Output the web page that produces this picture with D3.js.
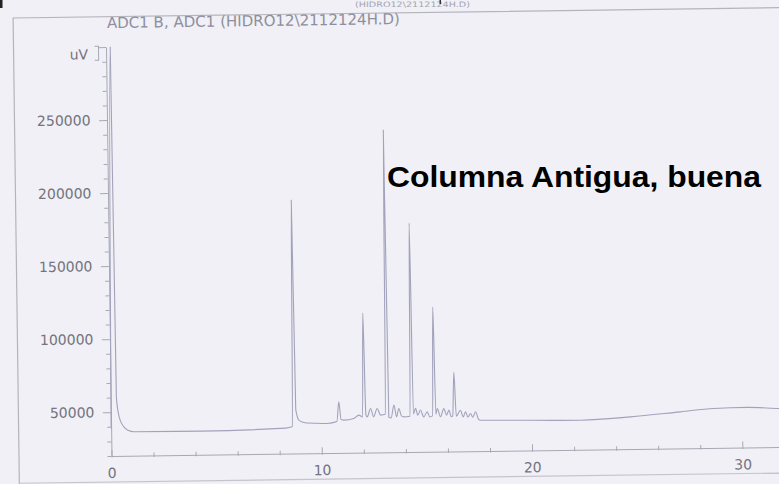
<!DOCTYPE html>
<html><head><meta charset="utf-8">
<script src="https://cdn.jsdelivr.net/npm/d3@7"></script>
<style>html,body{margin:0;padding:0;background:#f0f0f6;overflow:hidden}</style>
</head><body>
<script>
// ---- data (time in min, signal in uV) ----
const retentionTime = [0.00,0.20,0.27,0.40,0.60,0.80,1.10,4.25,8.30,8.62,8.71,8.79,8.95,9.30,10.28,10.74,10.84,10.94,11.07,11.54,11.79,11.96,12.04,12.12,12.18,12.35,12.49,12.66,12.82,13.05,13.13,13.21,13.32,13.46,13.58,13.69,13.82,13.92,14.22,14.30,14.38,14.49,14.59,14.72,14.87,15.04,15.16,15.29,15.37,15.45,15.52,15.67,15.83,15.96,16.07,16.18,16.25,16.33,16.42,16.62,16.75,16.86,16.97,17.10,17.20,17.34,17.48,17.57,18.20,22.33,24.70,27.08,28.66,30.27,31.79,33.00];
const signal        = [39000,300000,60000,46000,40000,37500,36400,36200,37500,38500,193600,50000,42500,40800,40300,41500,55000,42800,42400,43400,45700,44500,115500,46000,44400,50100,44400,50100,45500,46000,240700,44000,43500,52200,44200,49900,44600,44100,44500,176700,46000,49800,45100,48600,43900,47300,43800,44500,119000,45500,49500,43800,49400,44900,48300,43700,44300,74200,44000,48100,43500,47000,43500,45800,43200,46900,41600,41100,41000,40200,42000,45000,47000,47400,46400,46000];
const xTickValues = [0,2,4,6,8,10,12,14,16,18,20,22,24,26,28,30,32];
const xTickLabels = [0,10,20,30];
const yTickValues = [20000,30000,40000,50000,60000,70000,80000,90000,100000,110000,120000,130000,140000,150000,160000,170000,180000,190000,200000,210000,220000,230000,240000,250000,260000,270000,280000,290000,300000];
const yTickLabels = [50000,100000,150000,200000,250000];
const titleText = "ADC1 B, ADC1 (HIDRO12\\2112124H.D)";
const topCutText = "(HIDRO12\\2112124H.D)";
const unitText = "uV";
const annotationText = "Columna Antigua, buena";

// ---- drawing ----
const W = 779, H = 484;
const svg = d3.select("body").append("svg").attr("width", W).attr("height", H);
svg.append("rect").attr("width", W).attr("height", H).attr("fill", "#f0f0f6");

const x = d3.scaleLinear().domain([0, 33]).range([111.5, 111.5 + 21.03 * 33]);
const y = d3.scaleLinear().domain([20000, 300000]).range([456, 47]);

// scanned page is slightly rotated
const g = svg.append("g").attr("transform", "rotate(-0.77,111.5,456)");

// frame of the scanned report
g.append("path").attr("d", "M19,490 V16.7 H830")
  .attr("fill", "none").attr("stroke", "#b4b4bc").attr("stroke-width", 1.2);
g.append("line").attr("x1", 19).attr("x2", 830).attr("y1", 482).attr("y2", 482)
  .attr("stroke", "#c4c4cc").attr("stroke-width", 1.2);

// title
g.append("text").attr("x", 112.7).attr("y", 28).text(titleText)
  .attr("font-family", "DejaVu Sans").attr("font-size", 15).attr("fill", "#8e8e9c")
  .attr("textLength", 293).attr("lengthAdjust", "spacingAndGlyphs");

const labelColor = "#74747e", axisColor = "#a8a8b4";

// x axis
const xAxis = d3.axisBottom(x).tickValues(xTickValues).tickSizeOuter(0).tickSizeInner(-3).tickPadding(12)
  .tickFormat(d => xTickLabels.includes(d) ? d : "");
const gx = g.append("g").attr("transform", "translate(0,456)").call(xAxis);
gx.select(".domain").attr("stroke", axisColor);
gx.selectAll(".tick line").attr("stroke", axisColor)
  .attr("y2", d => xTickLabels.includes(d) ? -6 : -3).attr("y1", 1.5);
gx.selectAll("text").attr("font-family", "DejaVu Sans").attr("font-size", 14).attr("fill", labelColor);

// y axis
const yAxis = d3.axisLeft(y).tickValues(yTickValues).tickSizeOuter(0).tickSizeInner(4).tickPadding(12)
  .tickFormat(d => yTickLabels.includes(d) ? d : "");
const gy = g.append("g").attr("transform", "translate(111.5,0)").call(yAxis);
gy.select(".domain").attr("stroke", axisColor);
gy.selectAll(".tick line").attr("stroke", axisColor)
  .attr("x2", d => (d % 50000 === 0) ? -8 : -4);
gy.selectAll("text").attr("font-family", "DejaVu Sans").attr("font-size", 14).attr("fill", labelColor)
  .attr("x", -16.5);

// unit label with its bracket
g.append("text").attr("x", 93.5).attr("y", 59).attr("text-anchor", "end").text(unitText)
  .attr("font-family", "DejaVu Sans").attr("font-size", 14).attr("fill", labelColor);
g.append("path").attr("d", "M100,46 H104 V60 H100").attr("fill", "none")
  .attr("stroke", axisColor).attr("stroke-width", 1);

// chromatogram trace
const pts = retentionTime.map((t, i) => [t, signal[i]]);
const line = d3.line().x(d => x(d[0])).y(d => y(d[1])).curve(d3.curveMonotoneX);
g.append("path").datum(pts).attr("d", line).attr("fill", "none")
  .attr("stroke", "#a2a2bc").attr("stroke-width", 1.1).attr("stroke-linejoin", "round");

// faint header text at the top edge of the scan, and marks
svg.append("text").attr("x", 355).attr("y", 6.5).text(topCutText)
  .attr("font-family", "DejaVu Sans").attr("font-size", 7.5).attr("fill", "#a4a4b0")
  .attr("textLength", 115).attr("lengthAdjust", "spacingAndGlyphs");
svg.append("rect").attr("x", 0).attr("y", 0).attr("width", 2.5).attr("height", 8).attr("fill", "#222");
svg.append("rect").attr("x", 439.5).attr("y", 0).attr("width", 1.5).attr("height", 4).attr("fill", "#333");

// annotation (overlaid, not part of the scan)
svg.append("text").attr("x", 387).attr("y", 187).text(annotationText)
  .attr("font-family", "Liberation Sans, Arial, sans-serif").attr("font-weight", "bold")
  .attr("font-size", 30).attr("fill", "#000")
  .attr("textLength", 374).attr("lengthAdjust", "spacingAndGlyphs");
</script>
</body></html>
